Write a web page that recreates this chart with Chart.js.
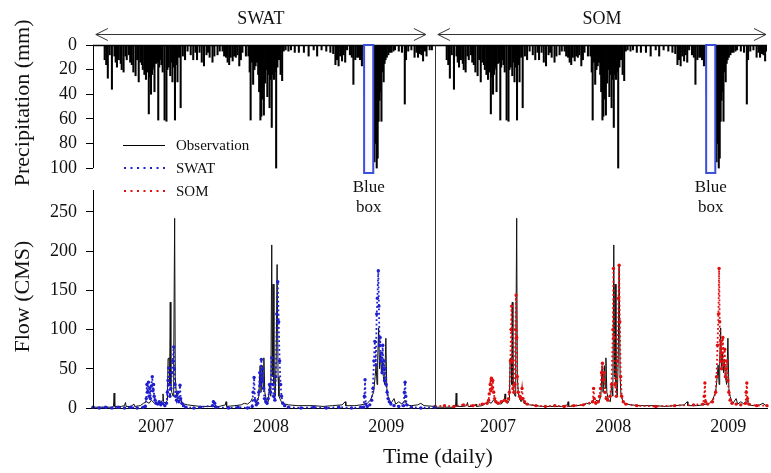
<!DOCTYPE HTML>
<html>
<head>
    <meta charset="utf-8" />
    <title>Precipitation and flow, SWAT vs SOM</title>
    <script src="https://cdn.jsdelivr.net/npm/chart.js@4.4.1/dist/chart.umd.min.js"></script>
    <style type="text/css">
        body { margin: 0; background: #fff; }
        #wrap { width: 771px; height: 473px; }
    </style>
</head>
<body>
<div id="wrap"><canvas id="flowChart" width="771" height="473"></canvas></div>
<script>
    // day index: 0 = 1 Jan 2007, one panel shows about three years
    var panelDays = 1085;
    var shownDays = 2138;          // left panel + visible part of the right panel

    var yearTickDays = [200, 565, 930];
    var yearLabels = ['2007', '2008', '2009'];
    var precipTicks = [0, 20, 40, 60, 80, 100];
    var flowTicks = [0, 50, 100, 150, 200, 250];

    // daily rainfall (mm), only the rainy days
    var rainDays = [37, 42, 47, 53, 60, 68, 72, 76, 82, 88,
        91, 97, 103, 107, 114, 118, 123, 128, 135, 140,
        145, 150, 155, 158, 163, 168, 173, 177, 181, 184,
        187, 189, 192, 195, 200, 204, 207, 210, 213, 217,
        221, 227, 233, 236, 240, 245, 249, 252, 256, 260,
        264, 268, 273, 278, 285, 292, 300, 310, 318, 325,
        330, 338, 345, 352, 360, 365, 370, 379, 385, 395,
        402, 411, 416, 422, 427, 432, 437, 443, 448, 453,
        458, 464, 469, 474, 485, 493, 497, 500, 504, 508,
        512, 516, 520, 524, 527, 531, 534, 538, 542, 546,
        550, 553, 556, 560, 563, 567, 571, 574, 578, 581,
        585, 590, 595, 600, 605, 611, 620, 628, 640, 653,
        669, 684, 700, 711, 725, 740, 753, 762, 769, 774,
        779, 784, 790, 795, 800, 806, 815, 821, 826, 832,
        838, 842, 847, 853, 862, 868, 874, 880, 886, 893,
        896, 900, 903, 906, 909, 912, 915, 918, 922, 925,
        928, 932, 937, 942, 947, 953, 958, 970, 980, 989,
        993, 1000, 1010, 1020, 1026, 1031, 1037, 1042, 1047, 1053,
        1058, 1068, 1075];
    var rainMm = [12, 16, 27, 8, 36, 9, 14, 18, 12, 15,
        20, 22, 9, 12, 8, 14, 16, 22, 25, 12,
        30, 14, 16, 20, 24, 28, 22, 56, 26, 40,
        24, 20, 18, 38, 15, 14, 61, 18, 12, 16,
        22, 61, 62, 20, 18, 25, 14, 30, 18, 61,
        16, 30, 10, 51, 9, 12, 5, 8, 12, 6,
        12, 6, 14, 17, 8, 6, 10, 14, 9, 8,
        5, 5, 9, 10, 14, 16, 10, 13, 9, 10,
        8, 17, 12, 6, 9, 9, 22, 61, 14, 32,
        20, 17, 14, 24, 38, 61, 58, 44, 57, 31,
        20, 42, 24, 51, 28, 67, 24, 28, 22, 100,
        18, 12, 24, 29, 5, 4, 5, 4, 6, 6,
        6, 9, 4, 9, 4, 5, 6, 7, 16, 12,
        17, 9, 13, 8, 14, 4, 8, 10, 32, 12,
        10, 10, 12, 17, 40, 30, 45, 60, 70, 95,
        80, 100, 92, 62, 45, 38, 62, 22, 30, 15,
        12, 10, 8, 6, 6, 5, 4, 5, 6, 48,
        12, 5, 4, 10, 6, 10, 7, 8, 13, 5,
        9, 4, 4];

    // observed flow (CMS)
    var obsDays = [0, 30, 60, 65, 67, 69, 90, 100, 103, 105,
        120, 130, 132, 150, 160, 170, 178, 185, 195, 210,
        220, 222, 224, 230, 236, 238, 241, 243, 245, 247,
        250, 254, 256, 259, 261, 264, 268, 273, 278, 282,
        290, 300, 320, 340, 365, 400, 420, 422, 424, 450,
        470, 480, 490, 500, 505, 510, 520, 526, 530, 533,
        537, 540, 542, 545, 550, 556, 560, 564, 567, 569,
        571, 574, 578, 581, 584, 587, 590, 595, 600, 620,
        650, 700, 730, 760, 790, 800, 802, 830, 850, 870,
        880, 890, 895, 898, 901, 903, 906, 909, 912, 915,
        918, 921, 925, 929, 932, 936, 940, 945, 955, 960,
        970, 980, 990, 995, 1010, 1030, 1040, 1050, 1085];
    var obsFlow = [1, 1, 1, 2, 19, 2, 2, 3, 7, 2,
        2, 5, 2, 3, 6, 8, 6, 10, 6, 5,
        10, 18, 8, 6, 10, 63, 64, 30, 135, 30,
        20, 15, 60, 242, 40, 20, 12, 8, 12, 6,
        5, 4, 3, 2, 2, 2, 4, 8, 2, 3,
        4, 6, 5, 8, 12, 10, 8, 15, 54, 20,
        54, 25, 64, 20, 10, 8, 30, 15, 208, 40,
        158, 30, 15, 60, 183, 40, 15, 10, 6, 4,
        3, 3, 2, 3, 4, 8, 3, 3, 4, 6,
        10, 20, 40, 55, 30, 60, 102, 50, 70, 45,
        60, 40, 30, 89, 25, 15, 10, 6, 12, 5,
        8, 5, 10, 4, 3, 4, 6, 3, 2];

    // SWAT simulated flow (CMS)
    var swatDays = [0, 20, 40, 60, 80, 100, 120, 140, 160, 166,
        169, 171, 173, 176, 178, 180, 182, 185, 188, 190,
        192, 194, 197, 200, 205, 210, 215, 220, 228, 233,
        236, 238, 240, 242, 244, 247, 250, 253, 256, 258,
        260, 262, 265, 269, 272, 276, 278, 282, 287, 295,
        320, 340, 379, 382, 386, 390, 430, 460, 490, 505,
        508, 511, 514, 518, 522, 526, 529, 531, 534, 536,
        538, 541, 544, 548, 552, 556, 560, 563, 567, 570,
        573, 577, 580, 583, 586, 589, 592, 595, 598, 602,
        608, 620, 660, 700, 740, 780, 820, 850, 858, 861,
        863, 865, 870, 878, 884, 888, 891, 894, 897, 900,
        902, 905, 907, 909, 911, 913, 915, 917, 919, 921,
        923, 925, 927, 930, 933, 936, 940, 945, 955, 970,
        985, 988, 990, 992, 995, 1010, 1040, 1085];
    var swatFlow = [1, 0, 1, 0, 1, 0, 1, 0, 1, 2,
        12, 30, 20, 33, 15, 25, 12, 28, 40, 22,
        30, 15, 10, 6, 5, 8, 4, 6, 3, 6,
        20, 35, 51, 30, 15, 25, 45, 60, 78, 50,
        30, 15, 10, 20, 8, 29, 12, 6, 3, 1,
        0, 1, 3, 8, 6, 1, 0, 1, 0, 2,
        20, 39, 10, 4, 6, 20, 45, 30, 62, 35,
        50, 25, 12, 8, 6, 12, 30, 20, 64, 30,
        15, 10, 40, 120, 161, 110, 60, 30, 15, 6,
        3, 1, 0, 1, 0, 1, 0, 1, 1, 15,
        36, 5, 2, 4, 10, 25, 60, 85, 55, 120,
        140, 175, 130, 80, 90, 60, 70, 45, 80, 50,
        60, 35, 50, 30, 20, 12, 8, 5, 3, 2,
        3, 20, 33, 15, 4, 1, 0, 1];

    // SOM simulated flow (CMS)
    var somDays = [0, 30, 60, 90, 120, 150, 165, 170, 172, 175,
        177, 179, 181, 183, 186, 189, 193, 200, 210, 220,
        228, 233, 236, 239, 241, 243, 245, 247, 250, 253,
        255, 257, 259, 261, 264, 268, 272, 276, 279, 284,
        292, 320, 350, 380, 410, 440, 470, 500, 503, 505,
        510, 518, 522, 525, 528, 531, 533, 536, 539, 543,
        548, 555, 560, 564, 566, 568, 571, 575, 579, 582,
        584, 586, 589, 592, 597, 605, 640, 700, 760, 820,
        850, 854, 856, 858, 865, 880, 890, 893, 896, 899,
        901, 903, 905, 907, 909, 911, 913, 915, 917, 919,
        921, 923, 926, 929, 932, 936, 942, 955, 970, 985,
        987, 989, 991, 995, 1020, 1053];
    var somFlow = [2, 3, 2, 4, 3, 5, 6, 10, 18, 30,
        22, 38, 25, 35, 20, 12, 8, 6, 8, 10,
        8, 12, 20, 60, 100, 130, 60, 25, 20, 30,
        100, 144, 90, 40, 20, 15, 12, 25, 12, 8,
        5, 3, 2, 3, 2, 3, 4, 8, 25, 12,
        6, 8, 15, 25, 45, 57, 35, 45, 20, 12,
        10, 15, 30, 100, 178, 90, 30, 15, 60, 140,
        182, 110, 40, 15, 8, 5, 3, 2, 3, 4,
        5, 15, 32, 8, 5, 8, 20, 40, 80, 120,
        178, 110, 60, 85, 50, 70, 90, 55, 60, 75,
        40, 50, 60, 35, 20, 10, 6, 5, 4, 6,
        20, 32, 12, 5, 3, 3];

    // blue box period (days) and depth (mm)
    var boxDays = [860, 889];
    var boxMm = 104;

    var serif = "'Liberation Serif', 'Times New Roman', serif";
    var blue = '#1f1fd0';
    var red = '#e01010';

    function points(days, values, offset) {
        var out = [];
        for (var i = 0; i < days.length; i++) {
            out.push({ x: days[i] + offset, y: values[i] });
        }
        return out;
    }

    var rainPoints = points(rainDays, rainMm, 0).concat(points(rainDays, rainMm, panelDays));

    var xTickDays = [];
    [0, panelDays].forEach(function (off) {
        yearTickDays.forEach(function (d) { xTickDays.push(d + off); });
    });

    function hline(ctx, x0, x1, y) {
        ctx.beginPath(); ctx.moveTo(x0, y); ctx.lineTo(x1, y); ctx.stroke();
    }
    function vline(ctx, x, y0, y1) {
        ctx.beginPath(); ctx.moveTo(x, y0); ctx.lineTo(x, y1); ctx.stroke();
    }
    function doubleArrow(ctx, x0, x1, y) {
        hline(ctx, x0, x1, y);
        ctx.beginPath();
        ctx.moveTo(x0 + 12, y - 6); ctx.lineTo(x0, y); ctx.lineTo(x0 + 12, y + 6);
        ctx.moveTo(x1 - 12, y - 6); ctx.lineTo(x1, y); ctx.lineTo(x1 - 12, y + 6);
        ctx.stroke();
    }

    var decor = {
        id: 'decor',
        afterDatasetsDraw: function (chart) {
            var ctx = chart.ctx;
            var x = chart.scales.x, yP = chart.scales.yP, yF = chart.scales.yF;
            var axisX = Math.round(x.left) + 0.5;
            var topY = Math.round(yP.getPixelForValue(0)) + 0.5;
            var bottomY = yF.getPixelForValue(0);

            ctx.save();
            ctx.strokeStyle = '#000';
            ctx.lineWidth = 1.5;
            hline(ctx, x.left, x.right, topY);
            ctx.lineWidth = 1;
            vline(ctx, axisX, topY, yP.getPixelForValue(100));
            vline(ctx, axisX, yF.getPixelForValue(278), bottomY);

            // precipitation tick labels (the scale box has no width of its own)
            ctx.fillStyle = '#111';
            ctx.font = '18px ' + serif;
            ctx.textAlign = 'right';
            ctx.textBaseline = 'middle';
            precipTicks.forEach(function (v) {
                ctx.fillText(String(v), x.left - 16, yP.getPixelForValue(v));
            });

            // SWAT | SOM divider
            var midX = Math.round(x.getPixelForValue(panelDays)) + 0.5;
            ctx.strokeStyle = '#333';
            vline(ctx, midX, topY, bottomY);

            // blue boxes and their labels
            [0, panelDays].forEach(function (off) {
                var bx0 = x.getPixelForValue(boxDays[0] + off);
                var bx1 = x.getPixelForValue(boxDays[1] + off);
                var by0 = yP.getPixelForValue(0);
                var by1 = yP.getPixelForValue(boxMm);
                ctx.fillStyle = '#fbfbff';
                ctx.fillRect(bx0, by0, bx1 - bx0, by1 - by0);
                ctx.strokeStyle = '#3b4fd8';
                ctx.lineWidth = 2;
                ctx.strokeRect(bx0, by0, bx1 - bx0, by1 - by0);
                ctx.fillStyle = '#111';
                ctx.font = '17px ' + serif;
                ctx.textAlign = 'center';
                ctx.textBaseline = 'alphabetic';
                ctx.fillText('Blue', (bx0 + bx1) / 2, by1 + 19);
                ctx.fillText('box', (bx0 + bx1) / 2, by1 + 39);
            });

            // panel headers with arrows
            ctx.strokeStyle = '#333';
            ctx.lineWidth = 1;
            var headers = ['SWAT', 'SOM'];
            [0, panelDays].forEach(function (off, i) {
                var a0 = x.getPixelForValue(off + 9);
                var a1 = Math.min(x.getPixelForValue(off + 1056), x.right - 1);
                doubleArrow(ctx, a0, a1, 34.5);
                ctx.fillStyle = '#111';
                ctx.font = '18px ' + serif;
                ctx.textAlign = 'center';
                ctx.fillText(headers[i], (a0 + a1) / 2, 24);
            });

            // legend
            ctx.font = '15px ' + serif;
            ctx.textAlign = 'left';
            ctx.fillStyle = '#111';
            ctx.strokeStyle = '#000';
            ctx.lineWidth = 1;
            hline(ctx, 123, 165, 145.5);
            ctx.fillText('Observation', 176, 150);
            ctx.setLineDash([2, 4.5]);
            ctx.lineWidth = 2.2;
            ctx.strokeStyle = blue;
            hline(ctx, 124, 166, 168);
            ctx.fillText('SWAT', 176, 173);
            ctx.strokeStyle = red;
            hline(ctx, 124, 166, 191);
            ctx.fillText('SOM', 176, 196);
            ctx.setLineDash([]);

            // axis titles
            ctx.font = '22px ' + serif;
            ctx.textAlign = 'center';
            ctx.fillText('Time (daily)', 438, 463);
            ctx.save();
            ctx.translate(29, yP.getPixelForValue(47));
            ctx.rotate(-Math.PI / 2);
            ctx.fillText('Precipitation (mm)', 0, 0);
            ctx.restore();
            ctx.save();
            ctx.translate(29, yF.getPixelForValue(142));
            ctx.rotate(-Math.PI / 2);
            ctx.fillText('Flow (CMS)', 0, 0);
            ctx.restore();
            ctx.restore();
        }
    };

    var tickFont = { family: serif, size: 18 };

    var ctx = document.getElementById('flowChart').getContext('2d');
    var flowChart = new Chart(ctx, {
        type: 'line',
        data: {
            datasets: [{
                label: 'SWAT',
                data: points(swatDays, swatFlow, 0),
                yAxisID: 'yF',
                borderColor: blue,
                borderWidth: 1.8,
                borderDash: [1.8, 2.6],
                pointRadius: 1.7,
                pointBorderWidth: 0,
                pointBackgroundColor: blue,
                clip: 3
            }, {
                label: 'SOM',
                data: points(somDays, somFlow, panelDays),
                yAxisID: 'yF',
                borderColor: red,
                borderWidth: 1.8,
                borderDash: [1.8, 2.6],
                pointRadius: 1.7,
                pointBorderWidth: 0,
                pointBackgroundColor: red,
                clip: 3
            }, {
                label: 'Observation',
                data: points(obsDays, obsFlow, 0),
                yAxisID: 'yF',
                borderColor: '#111',
                borderWidth: 1,
                pointRadius: 0
            }, {
                label: 'Observation (SOM panel)',
                data: points(obsDays, obsFlow, panelDays),
                yAxisID: 'yF',
                borderColor: '#111',
                borderWidth: 1,
                pointRadius: 0
            }, {
                type: 'bar',
                label: 'Precipitation',
                data: rainPoints,
                yAxisID: 'yP',
                backgroundColor: '#000',
                barThickness: 1.4
            }]
        },
        options: {
            responsive: false,
            animation: false,
            layout: { padding: { top: 45, right: 0, bottom: 0, left: 0 } },
            plugins: {
                legend: { display: false },
                tooltip: { enabled: false }
            },
            scales: {
                x: {
                    type: 'linear',
                    position: 'bottom',
                    offset: false,
                    min: 0,
                    max: shownDays,
                    afterFit: function (s) { s.height = 65; },
                    afterBuildTicks: function (s) {
                        s.ticks = xTickDays.map(function (v) { return { value: v }; });
                    },
                    ticks: {
                        autoSkip: false,
                        maxRotation: 0,
                        padding: 8,
                        color: '#111',
                        font: tickFont,
                        callback: function (value) {
                            return yearLabels[xTickDays.indexOf(value) % 3];
                        }
                    },
                    grid: { offset: false, drawOnChartArea: false, drawTicks: false },
                    border: { display: true, color: '#000', width: 1 }
                },
                yF: {
                    type: 'linear',
                    position: 'left',
                    weight: 1,
                    min: 0,
                    max: 463,
                    afterFit: function (s) { s.width = 93; },
                    afterBuildTicks: function (s) {
                        s.ticks = flowTicks.map(function (v) { return { value: v }; });
                    },
                    ticks: { padding: 9, color: '#111', font: tickFont },
                    grid: { drawOnChartArea: false, tickLength: 7, color: '#000' },
                    border: { display: false }
                },
                yP: {
                    type: 'linear',
                    position: 'left',
                    weight: 0,
                    reverse: true,
                    min: 0,
                    max: 295,
                    afterFit: function (s) { s.width = 0; },
                    afterBuildTicks: function (s) {
                        s.ticks = precipTicks.map(function (v) { return { value: v }; });
                    },
                    ticks: { display: false },
                    grid: { drawOnChartArea: false, tickLength: 7, color: '#000' },
                    border: { display: false }
                }
            }
        },
        plugins: [decor]
    });
</script>
</body>
</html>
